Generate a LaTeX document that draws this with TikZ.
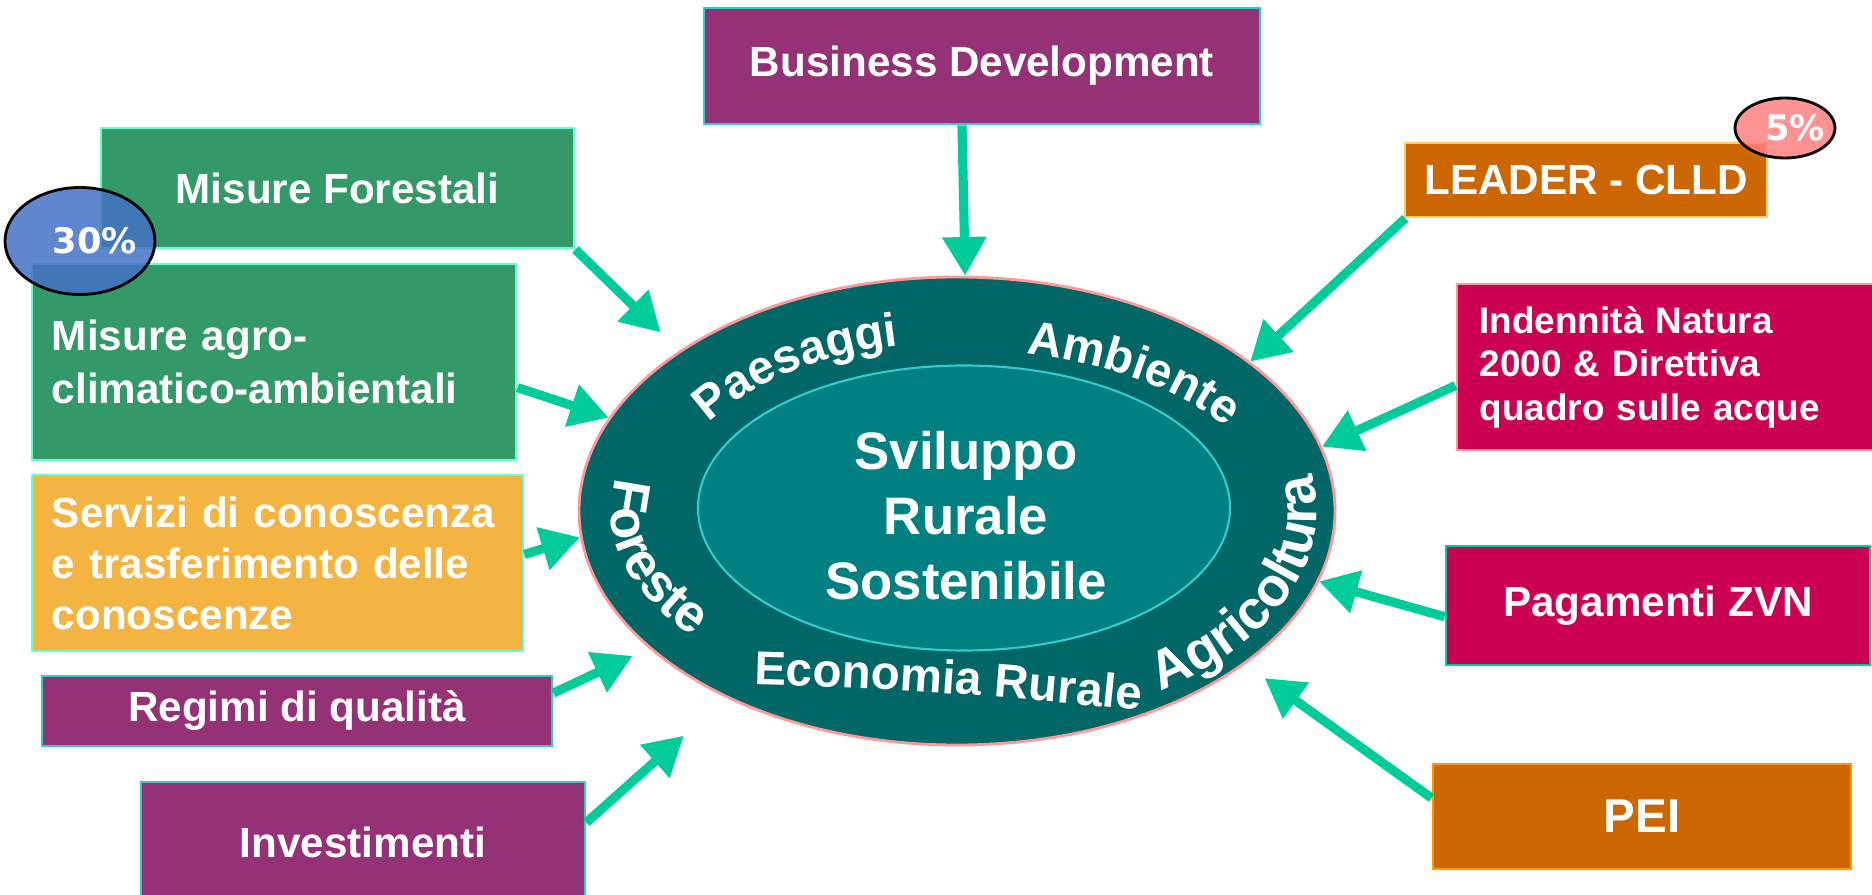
\documentclass[tikz,border=0pt]{standalone}
\usepackage{fontspec}
\setmainfont{Liberation Sans}
\newfontfamily\pctfont{DejaVu Sans}
\usepackage{tikz}
\usetikzlibrary{arrows.meta,shapes.geometric,decorations.text}

\definecolor{plum}{RGB}{149,49,117}
\definecolor{leaf}{RGB}{52,153,104}
\definecolor{sand}{RGB}{244,180,66}
\definecolor{rust}{RGB}{204,102,0}
\definecolor{berry}{RGB}{204,0,82}
\definecolor{deepteal}{RGB}{0,102,102}
\definecolor{midteal}{RGB}{0,128,128}
\definecolor{mint}{RGB}{0,204,153}
\definecolor{aqua}{RGB}{102,255,204}
\definecolor{cyanline}{RGB}{51,204,204}
\definecolor{peach}{RGB}{255,204,102}
\definecolor{rosy}{RGB}{255,153,153}
\definecolor{amber}{RGB}{255,153,0}
\definecolor{bluebub}{RGB}{68,114,196}
\definecolor{pinkbub}{RGB}{255,128,128}
\newcommand{\ringfont}[1]{\color{white}\bfseries\fontsize{#1}{#1}\selectfont}

\begin{document}
\begin{tikzpicture}[
        box/.style={draw, line width=0.8pt, text=white, inner sep=0pt,
                    font=\bfseries\fontsize{12}{15}\selectfont},
        purplebox/.style={box, fill=plum, draw=cyanline},
        greenbox/.style={box, fill=leaf, draw=aqua},
        sandbox/.style={box, fill=sand, draw=aqua},
        rustbox/.style={box, fill=rust, draw=#1},
        berrybox/.style={box, fill=berry, draw=#1},
        bubble/.style={ellipse, draw=black, line width=0.8pt, inner sep=0pt,
                    fill opacity=0.85, text opacity=1, text=white,
                    font=\pctfont\bfseries\fontsize{10}{12}\selectfont},
        feed/.style={color=mint, line width=2.6pt, -{Triangle[length=11pt,width=12pt]}},
        ringlabel/.style 2 args={decorate, decoration={text along path, text align=center,
                    text={|\ringfont{#1}|#2}}}
    ]
                    \useasboundingbox (0,0) rectangle (18.72,-8.95);
                    \node[ellipse, fill=deepteal, draw=rosy, line width=0.8pt, inner sep=0pt,
                          minimum width=7.56cm, minimum height=4.68cm] (ring) at (9.57,-5.11) {};
                    \node[ellipse, fill=midteal, draw=cyanline, line width=0.6pt, inner sep=0pt,
                          minimum width=5.32cm, minimum height=2.85cm] (core) at (9.64,-5.08) {};
                    \node[align=center, text=white, font=\bfseries\fontsize{15}{18.5}\selectfont]
                          (hub) at (9.66,-5.16) {Sviluppo\\Rurale\\Sostenibile};
                    \begin{scope}[shift={(ring.center)}]
                        \path[ringlabel={13.5}{Paesaggi}] (169:2.91 and 1.69)
                              arc[start angle=169, end angle=88, x radius=2.91, y radius=1.69];
                        \path[ringlabel={13.5}{Ambiente}] (90:3.15 and 1.61)
                              arc[start angle=90, end angle=10, x radius=3.15, y radius=1.61];
                        \path[ringlabel={15}{Foreste}] (147:3.46 and 1.94)
                              arc[start angle=147, end angle=238, x radius=3.46, y radius=1.94];
                        \path[ringlabel={13.5}{Economia Rurale}] (-2.17,-1.73)
                              .. controls (-0.72,-1.76) and (0.55,-1.86) .. (1.98,-2.01);
                        \path[ringlabel={15.5}{Agricoltura}] (-70:3.60 and 2.18)
                              arc[start angle=-70, end angle=30, x radius=3.60, y radius=2.18];
                    \end{scope}

                    \node[purplebox, minimum width=5.56cm, minimum height=1.16cm] (biz) at (9.82,-0.66) {Business Development};
                    \node[greenbox, minimum width=4.73cm, minimum height=1.20cm] (forest) at (3.375,-1.88) {Misure Forestali};
                    \node[greenbox, minimum width=4.84cm, minimum height=1.96cm, text width=4.44cm, align=left] (agro) at (2.74,-3.62) {Misure agro-\\climatico-ambientali};
                    \node[sandbox, minimum width=4.91cm, minimum height=1.76cm, text width=4.51cm, align=left,
                          font=\bfseries\fontsize{12}{14.5}\selectfont] (serv) at (2.775,-5.63) {Servizi di conoscenza\\e trasferimento delle\\conoscenze};
                    \node[purplebox, minimum width=5.10cm, minimum height=0.70cm] (qual) at (2.97,-7.11) {Regimi di qualità};
                    \node[purplebox, minimum width=4.44cm, minimum height=1.20cm] (inv) at (3.63,-8.42) {Investimenti};
                    \node[rustbox=peach, minimum width=3.62cm, minimum height=0.74cm] (lead) at (15.86,-1.80) {LEADER - CLLD};
                    \node[berrybox=rosy, minimum width=4.20cm, minimum height=1.66cm, text width=3.75cm, align=left,
                          font=\bfseries\fontsize{10.5}{12.4}\selectfont] (nat) at (16.67,-3.67) {Indennità Natura\\2000 \& Direttiva\\quadro sulle acque};
                    \node[berrybox=mint, minimum width=4.24cm, minimum height=1.19cm] (zvn) at (16.58,-6.055) {Pagamenti ZVN};
                    \node[rustbox=amber, minimum width=4.18cm, minimum height=1.05cm,
                          font=\bfseries\fontsize{13.5}{16}\selectfont] (pei) at (16.42,-8.165) {PEI};

                    \node[bubble, fill=bluebub, minimum width=1.50cm, minimum height=1.07cm] (pct30) at (0.80,-2.41) {\makebox[0pt]{\hspace{3mm}30\%}};
                    \node[bubble, fill=pinkbub, minimum width=1.00cm, minimum height=0.60cm] (pct5) at (17.85,-1.28) {\makebox[0pt]{\hspace{2mm}5\%}};

                    \path[feed]
                        ([xshift=-2mm]biz.south) edge (ring.88)
                        (forest.south east) edge [shorten >=2.6mm] (ring.150)
                        (agro.-6) edge (ring.165)
                        (serv.2) edge (ring.184)
                        (qual.4) edge [shorten >=1.8mm] (ring.204)
                        (inv.5) edge [shorten >=5.7mm] (ring.219)
                        (lead.192) edge (ring.27)
                        (nat.185) edge (ring.10)
                        (zvn.183) edge (ring.-11)
                        (pei.175) edge [shorten >=2.4mm] (ring.-28);
\end{tikzpicture}
\end{document}
